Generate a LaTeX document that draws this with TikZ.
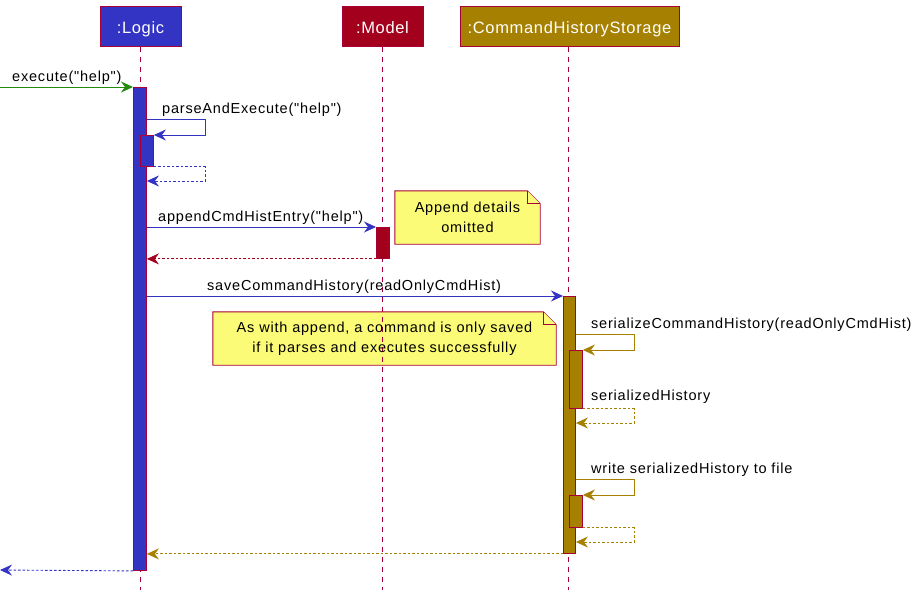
\documentclass[tikz,border=0pt]{standalone}
\usepackage{fontspec}
\setmainfont{Liberation Sans}
\newfontfamily\msgfont[LetterSpace=5.5]{Liberation Sans}
\newfontfamily\headfont[LetterSpace=4]{Liberation Sans}
\usetikzlibrary{arrows.meta,backgrounds}
\definecolor{crim}{HTML}{A80036}
\definecolor{lblue}{HTML}{3333C4}
\definecolor{mred}{HTML}{A3001E}
\definecolor{olive}{HTML}{A68000}
\definecolor{grn}{HTML}{23890F}
\definecolor{notey}{HTML}{FBFB77}
\tikzset{
  head/.style={draw=crim, line width=1pt, minimum height=40pt, inner sep=0pt, text height=14pt, text depth=0pt, text=white, font=\headfont\fontsize{16.5}{18}\selectfont},
  life/.style={draw=crim, line width=0.9pt, dash pattern=on 5pt off 5pt},
  act/.style={draw=crim, line width=0.9pt, minimum width=13pt, inner sep=0pt, anchor=north west},
  tip/.style={-{Stealth[length=12pt,width=11pt,inset=4pt]}},
  msg/.style={tip, line width=0.9pt},
  ret/.style={tip, line width=0.9pt, dash pattern=on 2.5pt off 2pt},
  lbl/.style={anchor=base west, inner sep=0pt, font=\msgfont\fontsize{14.5}{16}\selectfont},
  notetxt/.style={align=center, inner sep=0pt, font=\msgfont\fontsize{14.5}{20}\selectfont},
  notebox/.style={draw=crim, fill=notey, line width=0.9pt}
}
\begin{document}
\begin{tikzpicture}[x=1pt,y=-1pt]
\useasboundingbox (0,0) rectangle (920,600);
% headers
\node[head, fill=lblue, minimum width=81pt] (Logic) at (140.5,26) {:Logic};
\node[head, fill=mred, minimum width=81pt] (Model) at (382.5,26) {:Model};
\node[head, fill=olive, minimum width=219pt] (CHS) at (569.5,26) {:CommandHistoryStorage};
% lifeline ends
\coordinate (Lend) at (140,590);
\coordinate (Mend) at (382,590);
\coordinate (Cend) at (568,590);
\draw[life] (Logic.south -| Lend) -- (Lend);
\draw[life] (Model.south -| Mend) -- (Mend);
\draw[life] (CHS.south -| Cend) -- (Cend);
% activations
\node[act, fill=lblue, minimum height=483pt] (aL) at (133,87) {};
\node[act, fill=lblue, minimum height=31pt] (aL2) at (140,135) {};
\node[act, fill=mred, minimum height=31pt] (aM) at (376,227) {};
\node[act, fill=olive, minimum height=257pt, minimum width=12pt] (aC) at (563,296) {};
\node[act, fill=olive, minimum height=58pt] (aC2) at (569,350) {};
\node[act, fill=olive, minimum height=32pt] (aC3) at (569,495) {};
% notes
\node[notetxt, minimum width=145pt, minimum height=53pt] (n1) at (467.5,217.5) {Append details\\omitted};
\node[notetxt, minimum width=343pt, minimum height=53pt] (n2) at (384.5,338.5) {As with append, a command is only saved\\if it parses and executes successfully};
\begin{scope}[on background layer]
\draw[notebox] (n1.south west) -- (n1.north west) -- ([xshift=-13pt]n1.north east) -- ([yshift=-13pt]n1.north east) -- (n1.south east) -- cycle;
\draw[notebox] ([xshift=-13pt]n1.north east) -- ([xshift=-13pt,yshift=-13pt]n1.north east) -- ([yshift=-13pt]n1.north east);
\draw[notebox] (n2.south west) -- (n2.north west) -- ([xshift=-13pt]n2.north east) -- ([yshift=-13pt]n2.north east) -- (n2.south east) -- cycle;
\draw[notebox] ([xshift=-13pt]n2.north east) -- ([xshift=-13pt,yshift=-13pt]n2.north east) -- ([yshift=-13pt]n2.north east);
\end{scope}
% execute
\coordinate (src) at (0,87);
\draw[msg, draw=grn] (src) -- (aL.north west);
\node[lbl] (t1) at (12,81) {execute("help")};
% parseAndExecute self call
\coordinate (p1) at (205,119);
\draw[msg, draw=lblue] (aL.east |- p1) -- (p1) -- (p1 |- aL2.north) -- (aL2.north east);
\node[lbl] (t2) at (162,113) {parseAndExecute("help")};
\coordinate (p2) at (205,181);
\draw[ret, draw=lblue] (aL2.south east) -- (p2 |- aL2.south) -- (p2) -- (aL.east |- p2);
% appendCmdHistEntry
\draw[msg, draw=lblue] (aL.east |- aM.north) -- (aM.north west);
\node[lbl] (t3) at (158,221) {appendCmdHistEntry("help")};
\draw[ret, draw=mred] (aM.south west) -- (aL.east |- aM.south);
% saveCommandHistory
\draw[msg, draw=lblue] (aL.east |- aC.north) -- (aC.north west);
\node[lbl] (t4) at (207,290) {saveCommandHistory(readOnlyCmdHist)};
% serialize
\coordinate (s1) at (634,334);
\draw[msg, draw=olive] (aC.east |- s1) -- (s1) -- (s1 |- aC2.north) -- (aC2.north east);
\node[lbl] (t5) at (591,328) {serializeCommandHistory(readOnlyCmdHist)};
\coordinate (s2) at (634,423);
\draw[ret, draw=olive] (aC2.south east) -- (s2 |- aC2.south) -- (s2) -- (aC.east |- s2);
\node[lbl] (t6) at (591,400) {serializedHistory};
% write
\coordinate (w1) at (634,479);
\draw[msg, draw=olive] (aC.east |- w1) -- (w1) -- (w1 |- aC3.north) -- (aC3.north east);
\node[lbl] (t7) at (591,473) {write serializedHistory to file};
\coordinate (w2) at (634,542);
\draw[ret, draw=olive] (aC3.south east) -- (w2 |- aC3.south) -- (w2) -- (aC.east |- w2);
% returns
\draw[ret, draw=olive] (aC.south west) -- (aL.east |- aC.south);
\coordinate (dst) at (0,570);
\draw[ret, draw=lblue] (aL.south west) -- (dst);
\end{tikzpicture}
\end{document}
